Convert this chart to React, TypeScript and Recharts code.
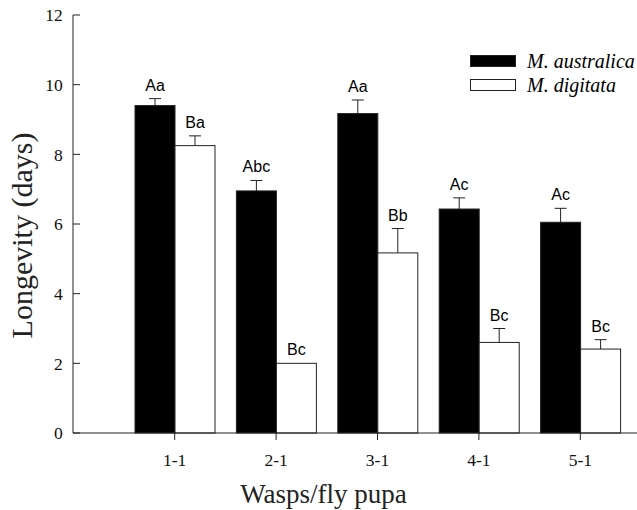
import React from 'react';
import { BarChart, Bar, XAxis, YAxis, Legend } from 'recharts';

const categories = ['1-1', '2-1', '3-1', '4-1', '5-1'];
const australica = [9.4, 6.95, 9.17, 6.43, 6.05];
const australicaErr = [0.2, 0.3, 0.39, 0.32, 0.4];
const australicaLetters = ['Aa', 'Abc', 'Aa', 'Ac', 'Ac'];
const digitata = [8.25, 2.0, 5.17, 2.6, 2.41];
const digitataErr = [0.28, 0, 0.7, 0.4, 0.27];
const digitataLetters = ['Ba', 'Bc', 'Bb', 'Bc', 'Bc'];
const yTicks = [0, 2, 4, 6, 8, 10, 12];

const data = categories.map((c, i) => ({
  cat: c,
  aus: australica[i],
  ausErr: australicaErr[i],
  ausLet: australicaLetters[i],
  dig: digitata[i],
  digErr: digitataErr[i],
  digLet: digitataLetters[i],
}));

const SERIF = '"Liberation Serif", "Times New Roman", serif';
const SANS = '"Liberation Sans", Arial, sans-serif';
const INK = '#222';

const makeShape = (fill: string, valKey: string, errKey: string, letKey: string) => (props: any) => {
  const { x, y, width, height, payload } = props;
  const v = payload[valKey];
  const e = payload[errKey];
  const pxPerUnit = v ? height / v : 0;
  const cx = x + width / 2;
  const capY = y - e * pxPerUnit;
  return (
    <g>
      <rect x={x} y={y} width={width} height={height} fill={fill} stroke={INK} strokeWidth={1} />
      {e > 0 && (
        <g>
          <line x1={cx} x2={cx} y1={y} y2={capY} stroke={INK} strokeWidth={1} />
          <line x1={cx - 6} x2={cx + 6} y1={capY} y2={capY} stroke={INK} strokeWidth={1} />
        </g>
      )}
      <text x={cx} y={capY - 8} textAnchor="middle" fontFamily={SANS} fontSize={16} fill="#000">
        {payload[letKey]}
      </text>
    </g>
  );
};

const LegendContent = (props: any) => {
  const { payload } = props;
  return (
    <svg width={170} height={50} style={{ overflow: 'visible', display: 'block' }}>
      {(payload || []).map((p: any, i: number) => (
        <g key={i}>
          <rect x={0.5} y={5.5 + i * 24} width={45} height={11} fill={p.color} stroke={INK} strokeWidth={1} />
          <text x={57} y={18 + i * 24} fontFamily={SERIF} fontStyle="italic" fontSize={20} fill="#000">
            {p.value}
          </text>
        </g>
      ))}
    </svg>
  );
};

const YLabel = (props: any) => {
  const { viewBox } = props;
  const x = viewBox.x + 31.5;
  const y = viewBox.y + viewBox.height / 2 + 11.5;
  return (
    <text x={x} y={y} transform={`rotate(-90, ${x}, ${y})`} textAnchor="middle" fontFamily={SERIF} fontSize={30} fill="#222">
      Longevity (days)
    </text>
  );
};

const XLabel = (props: any) => {
  const { viewBox } = props;
  const x = viewBox.x + viewBox.width / 2 - 31.5;
  const y = viewBox.y + 70;
  return (
    <text x={x} y={y} textAnchor="middle" fontFamily={SERIF} fontSize={27} fill="#222">
      Wasps/fly pupa
    </text>
  );
};

export default function App() {
  return (
    <div style={{ position: 'absolute', left: 0, top: 0, width: 637, height: 510, background: '#fff' }}>
      <BarChart width={637} height={510} data={data} margin={{ top: 15, right: 0, bottom: 0, left: 0 }} barGap={0}>
        <XAxis
          dataKey="cat"
          interval={0}
          padding={{ left: 51, right: 6 }}
          tickSize={7}
          tickMargin={13.6}
          height={77}
          axisLine={{ stroke: INK }}
          tickLine={{ stroke: INK }}
          tick={{ fontFamily: SERIF, fontSize: 17.5, fill: '#111' }}
          label={<XLabel />}
        />
        <YAxis
          width={73}
          domain={[0, 12]}
          ticks={yTicks}
          interval={0}
          tickSize={-7}
          tickMargin={17.3}
          axisLine={{ stroke: INK }}
          tickLine={{ stroke: INK }}
          tick={{ fontFamily: SERIF, fontSize: 17.5, fill: '#111' }}
          label={<YLabel />}
        />
        <Legend
          layout="horizontal"
          verticalAlign="middle"
          align="center"
          content={<LegendContent />}
          wrapperStyle={{ position: 'absolute', left: 470, top: 50, width: 170, height: 50 }}
        />
        <Bar dataKey="aus" name="M. australica" fill="#000" barSize={40} isAnimationActive={false}
          shape={makeShape('#000', 'aus', 'ausErr', 'ausLet')} />
        <Bar dataKey="dig" name="M. digitata" fill="#fff" barSize={40} isAnimationActive={false}
          shape={makeShape('#fff', 'dig', 'digErr', 'digLet')} />
      </BarChart>
    </div>
  );
}
